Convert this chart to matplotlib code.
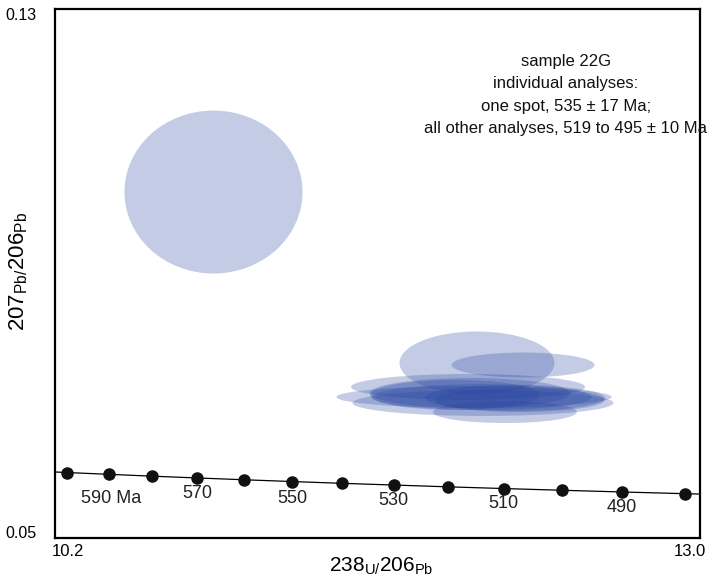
import matplotlib
matplotlib.use("Agg")
import matplotlib.pyplot as plt
from matplotlib.patches import Ellipse

plt.rcParams['font.family'] = ['Liberation Sans', 'DejaVu Sans']
plt.rcParams['mathtext.fontset'] = 'custom'
plt.rcParams['mathtext.rm'] = 'Liberation Sans'
plt.rcParams['mathtext.it'] = 'Liberation Sans'

# Concordia reference points (age in Ma, 238U/206Pb, 207Pb/206Pb)
concordia_age = [600, 590, 580, 570, 560, 550, 540, 530, 520, 510, 500, 490, 480]
concordia_x = [10.252, 10.434, 10.622, 10.817, 11.019, 11.228, 11.445,
               11.670, 11.904, 12.147, 12.399, 12.662, 12.936]
concordia_y = [0.05990, 0.05963, 0.05935, 0.05908, 0.05881, 0.05854, 0.05827,
               0.05801, 0.05774, 0.05748, 0.05722, 0.05696, 0.05670]
# Curve continuation past the plotted range (610 and 470 Ma)
curve_x = [10.076] + concordia_x + [13.222]
curve_y = [0.06018] + concordia_y + [0.05645]

age_labels = ["590 Ma", "570", "550", "530", "510", "490"]
age_label_ages = [590, 570, 550, 530, 510, 490]

# Error ellipses: centre (x, y), full width and height in data units
ell_x = [10.888, 12.032, 12.232, 12.019, 11.993, 12.058, 12.153, 12.002,
         12.054, 11.936, 12.197, 12.218]
ell_y = [0.10232, 0.07647, 0.07616, 0.07132, 0.07284, 0.07042, 0.06905,
         0.07193, 0.07132, 0.07163, 0.07117, 0.07087]
ell_w = [0.773, 0.673, 0.621, 1.194, 1.016, 1.133, 0.625, 0.868,
         0.955, 0.738, 0.781, 0.738]
ell_h = [0.02465, 0.00953, 0.00378, 0.00333, 0.00393, 0.00393, 0.00333,
         0.00454, 0.00393, 0.00454, 0.00393, 0.00363]

x_lim = (10.2, 13.0)
y_lim = (0.05, 0.13)

W, H = 710, 579
fig = plt.figure(figsize=(W / 100, H / 100), dpi=100)
L, R, T, B = 55, 700, 9, 538
ax = fig.add_axes([L / W, 1 - B / H, (R - L) / W, (B - T) / H])
ax.set_xlim(*x_lim)
ax.set_ylim(*y_lim)
ax.set_xticks([])
ax.set_yticks([])
for s in ax.spines.values():
    s.set_linewidth(1.6)
    s.set_color("black")

fill = (40 / 255, 70 / 255, 160 / 255)
for cx, cy, w, h in zip(ell_x, ell_y, ell_w, ell_h):
    ax.add_patch(Ellipse((cx, cy), w, h, facecolor=fill, alpha=0.27,
                         edgecolor="none", zorder=2))

ax.plot(curve_x, curve_y, color="black", lw=0.9, zorder=3)
ax.plot(concordia_x, concordia_y, "o", color="#111111", ms=8, zorder=4)

label_offsets = [(2, -24), (0, -16), (1, -17), (0, -15), (0, -15), (0, -16)]
for lab, age, (dx, dy) in zip(age_labels, age_label_ages, label_offsets):
    i = concordia_age.index(age)
    ax.annotate(lab, (concordia_x[i], concordia_y[i]), xytext=(dx, dy),
                textcoords="offset pixels", ha="center", va="center",
                fontsize=13, color="#222222", zorder=5)

fig.text(566 / W, 1 - 95 / H,
         "sample 22G\nindividual analyses:\none spot, 535 \u00b1 17 Ma;\n"
         "all other analyses, 519 to 495 \u00b1 10 Ma",
         ha="center", va="center", fontsize=12,
         linespacing=1.6, color="#111111")

# Corner tick values
fig.text(36 / W, 1 - 15 / H, "0.13", ha="right", va="center", fontsize=11.5)
fig.text(36 / W, 1 - 533 / H, "0.05", ha="right", va="center", fontsize=11.5)
fig.text(52 / W, 1 - 552 / H, "10.2", ha="left", va="center", fontsize=12)
fig.text(706 / W, 1 - 552 / H, "13.0", ha="right", va="center", fontsize=12)

fig.text(381 / W, 1 - 566 / H, r"$\mathregular{238_{U/}206_{Pb}}$",
         ha="center", va="center", fontsize=15)
fig.text(19 / W, 1 - 272 / H, r"$\mathregular{207_{Pb/}206_{Pb}}$",
         ha="center", va="center", fontsize=16, rotation=90)

fig.savefig("out.png", dpi=100)
